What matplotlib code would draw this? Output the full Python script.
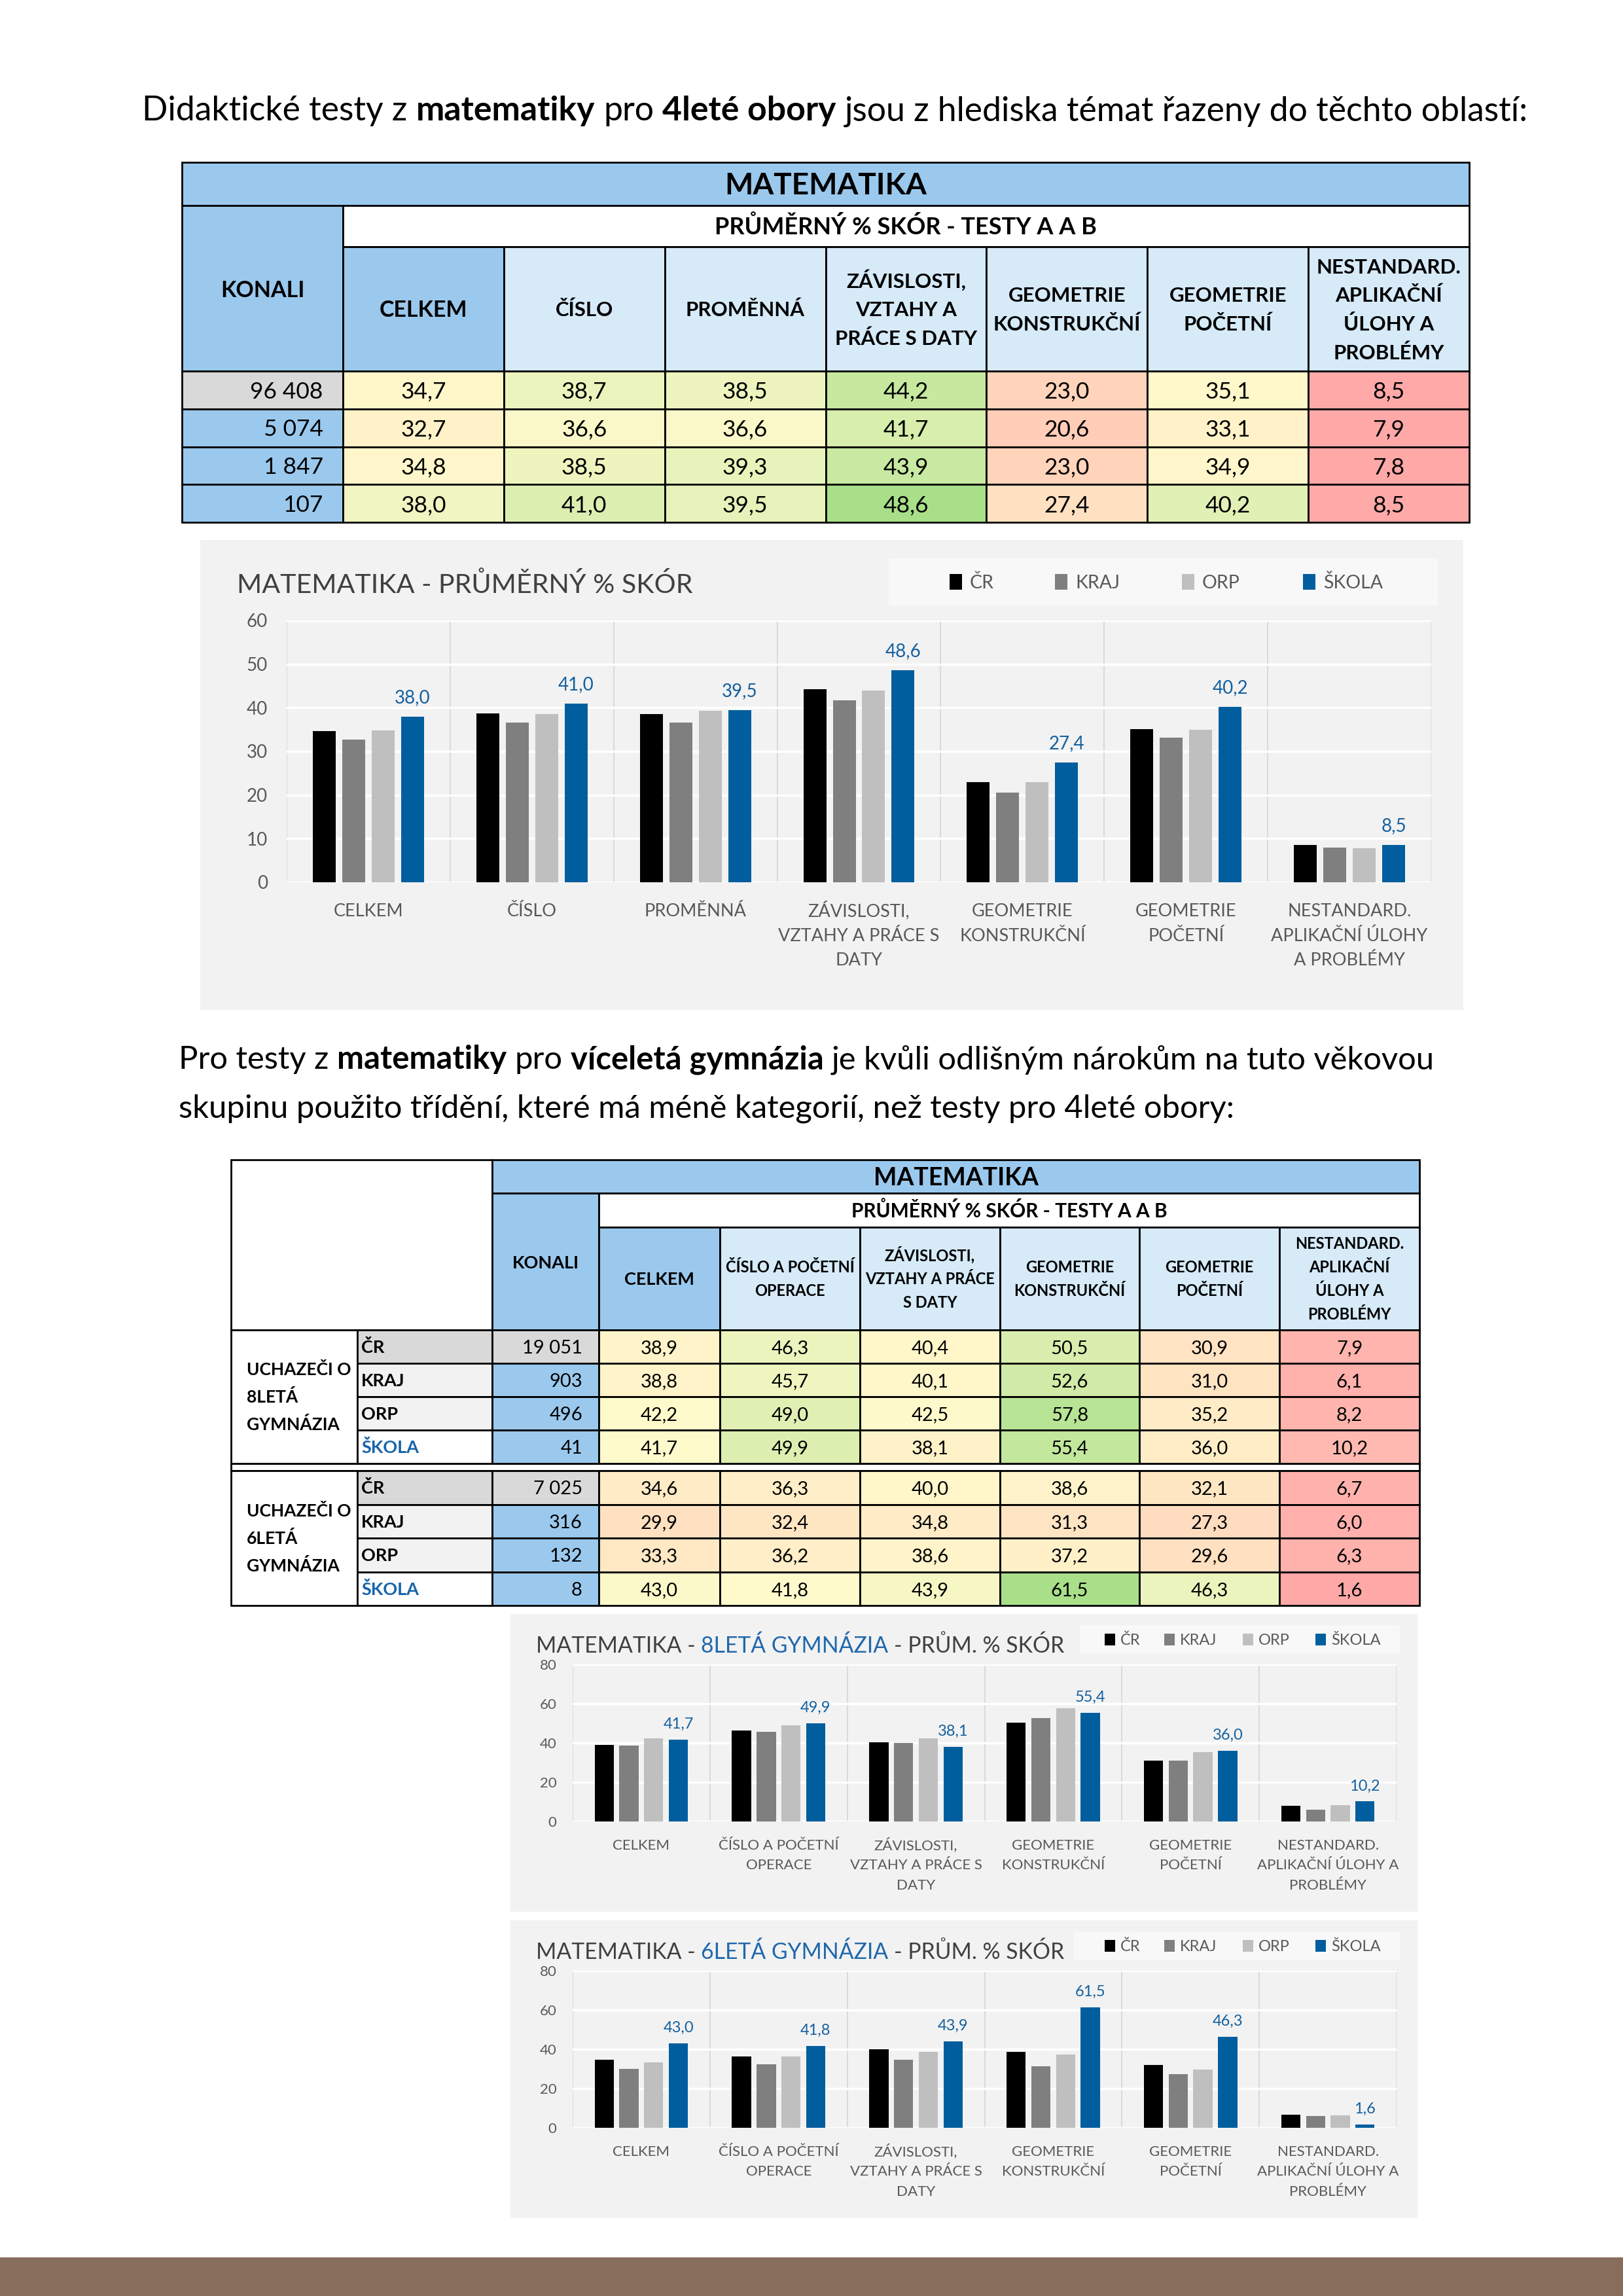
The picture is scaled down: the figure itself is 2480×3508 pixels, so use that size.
import numpy as np
import matplotlib
matplotlib.use("Agg")
import matplotlib.pyplot as plt
from matplotlib.patches import Rectangle
from matplotlib.colors import LinearSegmentedColormap, TwoSlopeNorm
from matplotlib.font_manager import FontProperties
from matplotlib.transforms import offset_copy

FAMILY = ["Lato", "DejaVu Sans"]
plt.rcParams["font.family"] = FAMILY

# ---------------- data ----------------
HDR_4 = ["CELKEM", "ČÍSLO", "PROMĚNNÁ", "ZÁVISLOSTI,\nVZTAHY A\nPRÁCE S DATY",
         "GEOMETRIE\nKONSTRUKČNÍ", "GEOMETRIE\nPOČETNÍ",
         "NESTANDARD.\nAPLIKAČNÍ\nÚLOHY A\nPROBLÉMY"]
CHART1_LABELS = ["CELKEM", "ČÍSLO", "PROMĚNNÁ", "ZÁVISLOSTI,\nVZTAHY A PRÁCE S\nDATY",
                 "GEOMETRIE\nKONSTRUKČNÍ", "GEOMETRIE\nPOČETNÍ",
                 "NESTANDARD.\nAPLIKAČNÍ ÚLOHY\nA PROBLÉMY"]
KONALI_4 = [96408, 5074, 1847, 107]
CR_4 = [34.7, 38.7, 38.5, 44.2, 23.0, 35.1, 8.5]
KRAJ_4 = [32.7, 36.6, 36.6, 41.7, 20.6, 33.1, 7.9]
ORP_4 = [34.8, 38.5, 39.3, 43.9, 23.0, 34.9, 7.8]
SKOLA_4 = [38.0, 41.0, 39.5, 48.6, 27.4, 40.2, 8.5]

HDR_G = ["CELKEM", "ČÍSLO A POČETNÍ\nOPERACE", "ZÁVISLOSTI,\nVZTAHY A PRÁCE\nS DATY",
         "GEOMETRIE\nKONSTRUKČNÍ", "GEOMETRIE\nPOČETNÍ",
         "NESTANDARD.\nAPLIKAČNÍ\nÚLOHY A\nPROBLÉMY"]
CHART_G_LABELS = ["CELKEM", "ČÍSLO A POČETNÍ\nOPERACE", "ZÁVISLOSTI,\nVZTAHY A PRÁCE S\nDATY",
                  "GEOMETRIE\nKONSTRUKČNÍ", "GEOMETRIE\nPOČETNÍ",
                  "NESTANDARD.\nAPLIKAČNÍ ÚLOHY A\nPROBLÉMY"]
SERIES = ["ČR", "KRAJ", "ORP", "ŠKOLA"]
GROUP_LABELS = ["UCHAZEČI O\n8LETÁ\nGYMNÁZIA", "UCHAZEČI O\n6LETÁ\nGYMNÁZIA"]
KONALI_8 = [19051, 903, 496, 41]
CR_8 = [38.9, 46.3, 40.4, 50.5, 30.9, 7.9]
KRAJ_8 = [38.8, 45.7, 40.1, 52.6, 31.0, 6.1]
ORP_8 = [42.2, 49.0, 42.5, 57.8, 35.2, 8.2]
SKOLA_8 = [41.7, 49.9, 38.1, 55.4, 36.0, 10.2]
KONALI_6 = [7025, 316, 132, 8]
CR_6 = [34.6, 36.3, 40.0, 38.6, 32.1, 6.7]
KRAJ_6 = [29.9, 32.4, 34.8, 31.3, 27.3, 6.0]
ORP_6 = [33.3, 36.2, 38.6, 37.2, 29.6, 6.3]
SKOLA_6 = [43.0, 41.8, 43.9, 61.5, 46.3, 1.6]

# ---------------- styles ----------------
W, H, DPI = 2480, 3508, 100
BLUE_H = "#9BC9EE"
LBLUE_H = "#D6EAF8"
GRAY_C = "#D9D9D9"
LGRAY_C = "#F2F2F2"
BAR_COLORS = ["#000000", "#7F7F7F", "#BFBFBF", "#005E9E"]
LABEL_BLUE = "#14609F"
TXT_BLUE = "#1764AB"
TICK_C = "#595959"
TITLE_C = "#404040"
CHART_BG = "#F2F2F2"
LEG_BG = "#F8F8F8"
CMAP = LinearSegmentedColormap.from_list("soft", ["#FFA8A8", "#FFFACC", "#A8DF88"])


def fmt1(v):
    return f"{v:.1f}".replace(".", ",")


def fmtn(n):
    return f"{n:,}".replace(",", " ")


fig = plt.figure(figsize=(W / DPI, H / DPI), dpi=DPI, facecolor="white")
page = fig.add_axes([0, 0, 1, 1])
page.set_xlim(0, W)
page.set_ylim(H, 0)
page.axis("off")
renderer = fig.canvas.get_renderer()


def px(size):
    return size * DPI / 72.0


def cap(size):
    return 0.7165 * px(size)


def text_w(s, size, weight="normal"):
    fp = FontProperties(family=FAMILY, size=size, weight=weight)
    w, h, d = renderer.get_text_width_height_descent(s, fp, ismath=False)
    return w


def rich(x, ybase, pieces, size, target_w=None):
    def widths(sz):
        ws = [text_w(s, sz, wt) for s, wt, c in pieces]
        sp = text_w("x x", sz) - text_w("xx", sz)
        return ws, sp
    ws, sp = widths(size)
    if target_w:
        total = sum(ws) + sp * (len(ws) - 1)
        size = size * target_w / total
        ws, sp = widths(size)
    cx = x
    for (s, wt, c), w in zip(pieces, ws):
        page.text(cx, ybase, s, fontsize=size, fontweight=wt, color=c,
                  ha="left", va="baseline")
        cx += w + sp
    return size


def ctext(x, yc, s, size, pitch=None, weight="normal", color="black", ha="center"):
    lines = s.split("\n")
    if pitch is None:
        pitch = px(size) * 1.3
    n = len(lines)
    y0 = yc - (n - 1) * pitch / 2 + cap(size) / 2
    for i, ln in enumerate(lines):
        page.text(x, y0 + i * pitch, ln, fontsize=size, fontweight=weight,
                  color=color, ha=ha, va="baseline")


def cell(x0, y0, x1, y1, fc, lw=2.0, ec="black", z=1):
    page.add_patch(Rectangle((x0, y0), x1 - x0, y1 - y0, facecolor=fc,
                             edgecolor=ec, linewidth=lw, zorder=z))


# ---------------- headline text ----------------
N, B = "normal", "bold"
rich(217, 184, [("Didaktické testy z", N, "black"), ("matematiky", B, "black"),
                ("pro", N, "black"), ("4leté obory", B, "black"),
                ("jsou z hlediska témat řazeny do těchto oblastí:", N, "black")],
     31, target_w=2111)

# ---------------- table 1 ----------------
T1_X = np.linspace(278, 2245, 9)
T1_Y = [248, 314, 377, 567]
T1_ROWS = np.linspace(567, 798, 5)
vals1 = np.array([CR_4, KRAJ_4, ORP_4, SKOLA_4])
norm1 = TwoSlopeNorm(vmin=vals1.min(), vcenter=np.median(vals1), vmax=vals1.max())

cell(T1_X[0], T1_Y[0], T1_X[-1], T1_Y[1], BLUE_H)
ctext((T1_X[0] + T1_X[-1]) / 2, (T1_Y[0] + T1_Y[1]) / 2, "MATEMATIKA", 33, weight=B)
cell(T1_X[0], T1_Y[1], T1_X[1], T1_Y[3], BLUE_H)
ctext((T1_X[0] + T1_X[1]) / 2, 442, "KONALI", 24.5, weight=B)
cell(T1_X[1], T1_Y[1], T1_X[-1], T1_Y[2], "white")
ctext((T1_X[1] + T1_X[-1]) / 2, (T1_Y[1] + T1_Y[2]) / 2, "PRŮMĚRNÝ % SKÓR - TESTY A A B", 26, weight=B)
for j, hd in enumerate(HDR_4):
    cell(T1_X[j + 1], T1_Y[2], T1_X[j + 2], T1_Y[3], BLUE_H if j == 0 else LBLUE_H)
    ctext((T1_X[j + 1] + T1_X[j + 2]) / 2, (T1_Y[2] + T1_Y[3]) / 2, hd,
          24.5 if j == 0 else 22.5, pitch=43.6, weight=B)
for i in range(4):
    y0, y1 = T1_ROWS[i], T1_ROWS[i + 1]
    cell(T1_X[0], y0, T1_X[1], y1, GRAY_C if i == 0 else BLUE_H)
    ctext(T1_X[1] - 30, (y0 + y1) / 2, fmtn(KONALI_4[i]), 25.5, ha="right")
    for j in range(7):
        v = vals1[i, j]
        cell(T1_X[j + 1], y0, T1_X[j + 2], y1, CMAP(norm1(v)))
        ctext((T1_X[j + 1] + T1_X[j + 2]) / 2, (y0 + y1) / 2, fmt1(v), 25.5)

# ---------------- chart helpers ----------------
def px_axes(x0, y0, x1, y1):
    return fig.add_axes([x0 / W, 1 - y1 / H, (x1 - x0) / W, (y1 - y0) / H])


def bar_chart(ax, labels, data, ymax, ystep, fs_x, fs_y, fs_lab, ypad, lab_off,
              line0, pitch):
    n = len(labels)
    x = np.arange(n)
    offs = (np.arange(4) - 1.5) * 0.18
    for k, vals in enumerate(data):
        ax.bar(x + offs[k], vals, width=0.14, color=BAR_COLORS[k], zorder=3)
    for xi, v in zip(x, data[3]):
        ax.annotate(fmt1(v), (xi + offs[3], v), xytext=(0, lab_off),
                    textcoords="offset pixels", ha="center", va="baseline",
                    fontsize=fs_lab, color=LABEL_BLUE, zorder=4)
    ax.set_xlim(-0.5, n - 0.5)
    ax.set_ylim(0, ymax)
    ticks = np.arange(0, ymax + ystep / 2, ystep)
    ax.set_yticks(ticks)
    ax.set_yticklabels([f"{int(t)}" for t in ticks])
    ax.set_xticks(x)
    ax.set_xticklabels([""] * n)
    ax.set_xticks(np.arange(n + 1) - 0.5, minor=True)
    ax.tick_params(axis="both", which="both", length=0)
    ax.tick_params(axis="y", pad=ypad, labelsize=fs_y, labelcolor=TICK_C)
    ax.yaxis.grid(True, color="white", lw=2.5)
    ax.xaxis.grid(True, which="minor", color="#D4D4D4", lw=1.2)
    ax.set_axisbelow(True)
    ax.set_facecolor("none")
    for s in ax.spines.values():
        s.set_visible(False)
    trans = ax.get_xaxis_transform()
    for xi, lab in zip(x, labels):
        for i, ln in enumerate(lab.split("\n")):
            t = offset_copy(trans, fig=fig, x=0, y=-(line0 + i * pitch), units="dots")
            ax.text(xi, 0, ln, transform=t, ha="center", va="baseline",
                    fontsize=fs_x, color=TICK_C, clip_on=False)


def legend_box(x0, y0, x1, y1, marker_x, mw, mh, gap, fs):
    page.add_patch(Rectangle((x0, y0), x1 - x0, y1 - y0, facecolor=LEG_BG,
                             edgecolor="none", zorder=1))
    yc = (y0 + y1) / 2
    for name, col, mx in zip(SERIES, BAR_COLORS, marker_x):
        page.add_patch(Rectangle((mx, yc - mh / 2), mw, mh, facecolor=col,
                                 edgecolor="none", zorder=2))
        page.text(mx + mw + gap, yc + cap(fs) / 2, name, fontsize=fs, color=TICK_C,
                  ha="left", va="baseline", zorder=3)


# ---------------- chart 1 ----------------
page.add_patch(Rectangle((306, 825), 2236 - 306, 1543 - 825, facecolor=CHART_BG,
                         edgecolor="none", zorder=0))
rich(362, 906, [("MATEMATIKA - PRŮMĚRNÝ % SKÓR", N, TITLE_C)], 29, target_w=697)
legend_box(1358, 853, 2197, 925, [1451, 1612, 1806, 1991], 19, 24, 12, 20.5)
ax1 = px_axes(438, 948, 2187, 1348)
bar_chart(ax1, CHART1_LABELS, [CR_4, KRAJ_4, ORP_4, SKOLA_4], 60, 10,
          19.5, 20, 20, 21, 21, 52, 37.5)

# ---------------- paragraph ----------------
fs_par = rich(273, 1633, [("Pro testy z", N, "black"), ("matematiky", B, "black"), ("pro", N, "black"),
                          ("víceletá gymnázia", B, "black"),
                          ("je kvůli odlišným nárokům na tuto věkovou", N, "black")], 31, target_w=1916)
rich(273, 1708, [("skupinu použito třídění, které má méně kategorií, než testy pro 4leté obory:",
                  N, "black")], fs_par)

# ---------------- table 2 ----------------
T2_X = [353, 546, 752, 915, 1100, 1314, 1528, 1741, 1955, 2169]
T2_Y = [1772, 1823, 1875, 2032]
G_ROWS = [np.linspace(2032, 2236, 5), np.linspace(2247, 2453, 5)]
vals8 = np.array([CR_8, KRAJ_8, ORP_8, SKOLA_8])
vals6 = np.array([CR_6, KRAJ_6, ORP_6, SKOLA_6])
allv = np.concatenate([vals8.ravel(), vals6.ravel()])
norm2 = TwoSlopeNorm(vmin=allv.min(), vcenter=42.0, vmax=allv.max())

cell(T2_X[0], T2_Y[0], T2_X[2], T2_Y[3], "white")
cell(T2_X[2], T2_Y[0], T2_X[-1], T2_Y[1], BLUE_H)
ctext((T2_X[2] + T2_X[-1]) / 2, (T2_Y[0] + T2_Y[1]) / 2, "MATEMATIKA", 27, weight=B)
cell(T2_X[2], T2_Y[1], T2_X[3], T2_Y[3], BLUE_H)
ctext((T2_X[2] + T2_X[3]) / 2, 1928, "KONALI", 19.5, weight=B)
cell(T2_X[3], T2_Y[1], T2_X[-1], T2_Y[2], "white")
ctext((T2_X[3] + T2_X[-1]) / 2, (T2_Y[1] + T2_Y[2]) / 2, "PRŮMĚRNÝ % SKÓR - TESTY A A B", 21.5, weight=B)
for j, hd in enumerate(HDR_G):
    cell(T2_X[j + 3], T2_Y[2], T2_X[j + 4], T2_Y[3], BLUE_H if j == 0 else LBLUE_H)
    ctext((T2_X[j + 3] + T2_X[j + 4]) / 2, (T2_Y[2] + T2_Y[3]) / 2, hd,
          19.5 if j == 0 else 17, pitch=36, weight=B)

# gap between the groups
page.add_patch(Rectangle((T2_X[0], 2236), T2_X[-1] - T2_X[0], 11, facecolor="white",
                         edgecolor="black", linewidth=2.0, zorder=1))

row_fc = [GRAY_C, LGRAY_C, LGRAY_C, "white"]
for g, (vals, konali, glab) in enumerate([(vals8, KONALI_8, GROUP_LABELS[0]),
                                          (vals6, KONALI_6, GROUP_LABELS[1])]):
    rows = G_ROWS[g]
    cell(T2_X[0], rows[0], T2_X[1], rows[-1], "white")
    ctext(T2_X[0] + 24, (rows[0] + rows[-1]) / 2, glab, 19, pitch=42, weight=B, ha="left")
    for i in range(4):
        y0, y1 = rows[i], rows[i + 1]
        yc = (y0 + y1) / 2
        cell(T2_X[1], y0, T2_X[2], y1, row_fc[i])
        ctext(T2_X[1] + 6, yc, SERIES[i], 19.5, weight=B,
              color=TXT_BLUE if i == 3 else "black", ha="left")
        cell(T2_X[2], y0, T2_X[3], y1, GRAY_C if i == 0 else BLUE_H)
        ctext(T2_X[3] - 25, yc, fmtn(konali[i]), 21, ha="right")
        for j in range(6):
            v = vals[i, j]
            cell(T2_X[j + 3], y0, T2_X[j + 4], y1, CMAP(norm2(v)))
            ctext((T2_X[j + 3] + T2_X[j + 4]) / 2, yc, fmt1(v), 21)

# ---------------- charts 2 and 3 ----------------
for dy, name, data in [(0, "8LETÁ GYMNÁZIA", [CR_8, KRAJ_8, ORP_8, SKOLA_8]),
                       (468, "6LETÁ GYMNÁZIA", [CR_6, KRAJ_6, ORP_6, SKOLA_6])]:
    page.add_patch(Rectangle((780, 2466 + dy), 2166 - 780, 455, facecolor=CHART_BG,
                             edgecolor="none", zorder=0))
    rich(819, 2525 + dy, [("MATEMATIKA -", N, TITLE_C), (name, N, "#1F68AC"),
                          ("- PRŮM. % SKÓR", N, TITLE_C)], 24, target_w=809)
    legend_box(1650 if dy == 0 else 1640, 2483 + dy, 2139, 2527 + dy,
               [1688, 1779, 1899, 2010], 16, 18, 8, 17)
    ax = px_axes(875, 2543 + dy, 2134, 2783 + dy)
    bar_chart(ax, CHART_G_LABELS, data, 80, 20, 16, 16, 17, 17.5, 17, 43, 30.5)

# ---------------- bottom band ----------------
page.add_patch(Rectangle((0, 3449), W, H - 3449, facecolor="#896D5C", edgecolor="none", zorder=0))

fig.savefig("out.png", dpi=DPI, facecolor="white")
